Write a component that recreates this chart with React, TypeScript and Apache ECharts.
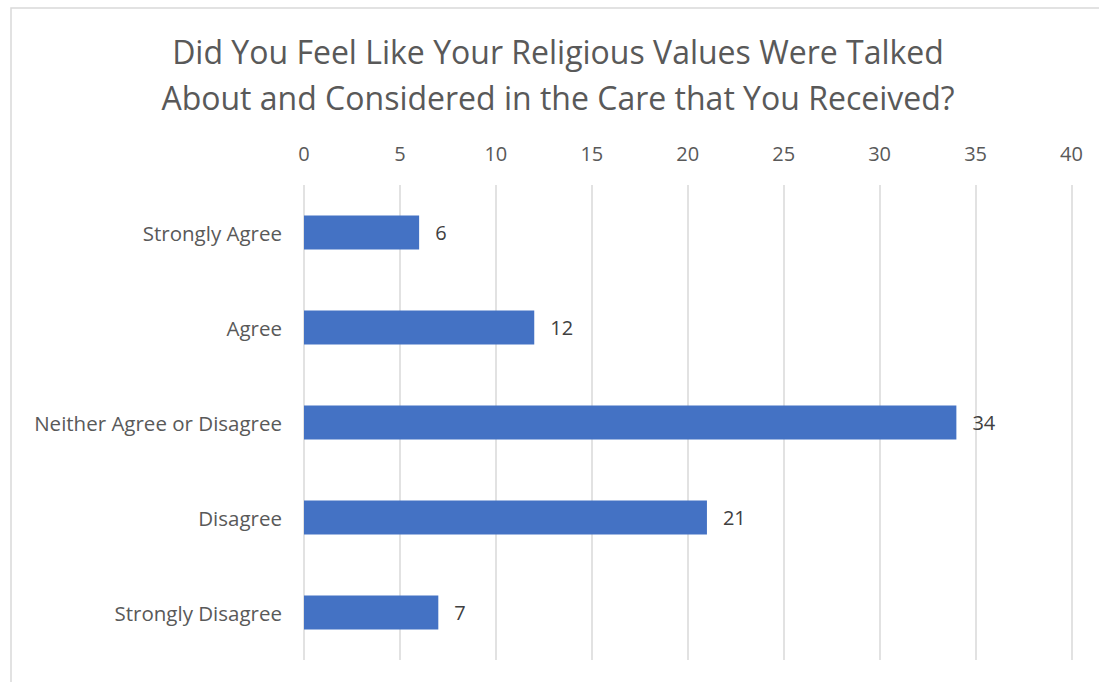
import React, { useEffect, useRef } from "react";
import * as echarts from "echarts";

const categories = [
  "Strongly Agree",
  "Agree",
  "Neither Agree or Disagree",
  "Disagree",
  "Strongly Disagree",
];
const values = [6, 12, 34, 21, 7];
const titleLines = [
  "Did You Feel Like Your Religious Values Were Talked",
  "About and Considered in the Care that You Received?",
];

const FONT = "'Open Sans', 'Noto Sans', sans-serif";
const GREY = "#595959";

export default function App() {
  const ref = useRef<HTMLDivElement>(null);
  useEffect(() => {
    if (!ref.current) return;
    const chart = echarts.init(ref.current, null, { renderer: "svg" });
    chart.setOption({
      animation: false,
      backgroundColor: "#ffffff",
      title: {
        text: titleLines.join("\n"),
        left: 553,
        textAlign: "center",
        top: 23,
        textStyle: {
          fontFamily: FONT,
          fontSize: 32,
          fontWeight: "normal",
          color: GREY,
          lineHeight: 46,
        },
      },
      graphic: [
        {
          type: "rect",
          shape: { x: 11, y: 8, width: 1200, height: 800 },
          style: { fill: "none", stroke: "#d9d9d9", lineWidth: 1.5 },
          silent: true,
        },
      ],
      grid: { left: 304, right: 27.5, top: 185, bottom: 22, containLabel: false },
      xAxis: {
        type: "value",
        position: "top",
        min: 0,
        max: 40,
        interval: 5,
        axisLine: { show: false },
        axisTick: { show: false },
        axisLabel: { color: GREY, fontFamily: FONT, fontSize: 20, margin: 22 },
        splitLine: { show: true, lineStyle: { color: "#d9d9d9", width: 1.5 } },
      },
      yAxis: {
        type: "category",
        data: categories,
        inverse: true,
        axisLine: { show: false },
        axisTick: { show: false },
        axisLabel: { color: GREY, fontFamily: FONT, fontSize: 20.5, margin: 22 },
        splitLine: { show: false },
      },
      series: [
        {
          type: "bar",
          data: values,
          barWidth: 34,
          itemStyle: { color: "#4472C4" },
          label: {
            show: true,
            position: "right",
            distance: 16,
            color: "#404040",
            fontFamily: FONT,
            fontSize: 20,
          },
        },
      ],
    });
    return () => chart.dispose();
  }, []);
  return (
    <div
      ref={ref}
      style={{ position: "fixed", left: 0, top: 0, width: 1099, height: 682 }}
    />
  );
}
